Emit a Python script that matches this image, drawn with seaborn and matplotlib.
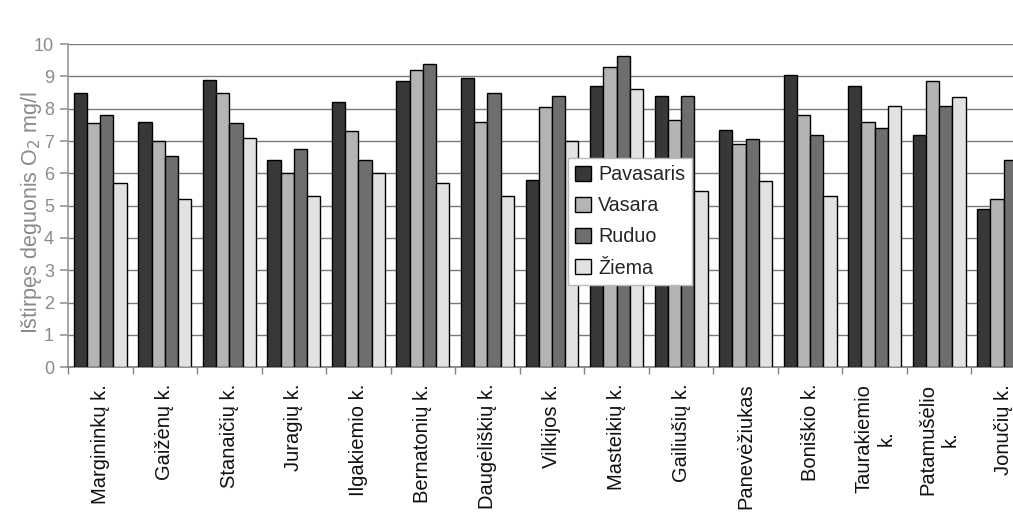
import matplotlib
matplotlib.use("Agg")
import matplotlib.pyplot as plt
import seaborn as sns
import pandas as pd
import numpy as np

categories = ["Margininkų k.", "Gaižėnų k.", "Stanaičių k.", "Juragių k.", "Ilgakiemio k.",
              "Bernatonių k.", "Daugėliškių k.", "Vilkijos k.", "Masteikių k.", "Gailiušių k.",
              "Panevėžiukas", "Boniškio k.", "Taurakiemio\nk.", "Patamušėlio\nk.", "Jonučių k."]
seasons = ["Pavasaris", "Vasara", "Ruduo", "Žiema"]
pavasaris = [8.5, 7.6, 8.9, 6.4, 8.2, 8.85, 8.95, 5.8, 8.7, 8.4, 7.35, 9.05, 8.7, 7.2, 4.9]
vasara    = [7.55, 7.0, 8.5, 6.0, 7.3, 9.2, 7.6, 8.05, 9.3, 7.65, 6.9, 7.8, 7.6, 8.85, 5.2]
ruduo     = [7.8, 6.55, 7.55, 6.75, 6.4, 9.4, 8.5, 8.4, 9.65, 8.4, 7.05, 7.2, 7.4, 8.1, 6.4]
ziema     = [5.7, 5.2, 7.1, 5.3, 6.0, 5.7, 5.3, 7.0, 8.6, 5.45, 5.75, 5.3, 8.1, 8.35, 6.1]
colors = ["#383838", "#b4b4b4", "#6e6e6e", "#e2e2e2"]

rows = []
for s, vals in zip(seasons, [pavasaris, vasara, ruduo, ziema]):
    for c, v in zip(categories, vals):
        rows.append({"cat": c, "season": s, "val": v})
df = pd.DataFrame(rows)

sns.set_theme(style="white")
plt.rcParams["font.family"] = ["Liberation Sans", "DejaVu Sans"]

fig = plt.figure(figsize=(10.13, 5.2), dpi=100)
ax = fig.add_axes([0.0671, 0.294, 0.9556, 0.621])

sns.barplot(data=df, x="cat", y="val", hue="season", order=categories, hue_order=seasons,
            palette=colors, width=0.82, gap=0, edgecolor="black", linewidth=1.0,
            ax=ax, zorder=3, legend=True)

ax.set_ylim(0, 10)
ax.set_xlim(-0.5, len(categories) - 0.5)
ax.set_yticks(range(0, 11))
ax.yaxis.grid(True, color="#7a7a7a", linewidth=1.0, zorder=0)
ax.set_axisbelow(True)
for sp in ["top", "right"]:
    ax.spines[sp].set_visible(False)
ax.spines["left"].set_color("#9a9a9a")
ax.spines["bottom"].set_color("#808080")
ax.set_xlabel("")
ax.set_ylabel("Ištirpęs deguonis O$_2$ mg/l", fontsize=15.5, color="#8a8a8a")
ax.yaxis.set_label_coords(-0.025, 0.48)
ax.tick_params(axis="y", labelsize=13, labelcolor="#8a8a8a", length=6, color="#9a9a9a",
               left=True, pad=4)
ax.set_xticks(range(len(categories)))
ax.set_xticklabels(categories, rotation=90, fontsize=14.5, color="#111111")
ax.tick_params(axis="x", length=0, pad=12)
ax.set_xticks(np.arange(-0.5, len(categories), 1.0), minor=True)
ax.tick_params(axis="x", which="minor", length=5, color="#808080", bottom=True)

leg = ax.legend(loc="upper left", bbox_to_anchor=(0.561, 0.696), bbox_transform=fig.transFigure,
                fontsize=14.2, frameon=True, fancybox=False, edgecolor="#bbbbbb", framealpha=1,
                handlelength=0.8, handleheight=0.8, handletextpad=0.35, labelspacing=0.62,
                borderpad=0.35, borderaxespad=0)
leg.get_frame().set_linewidth(1.0)
leg.set_zorder(10)

fig.savefig("out.png", dpi=100)
